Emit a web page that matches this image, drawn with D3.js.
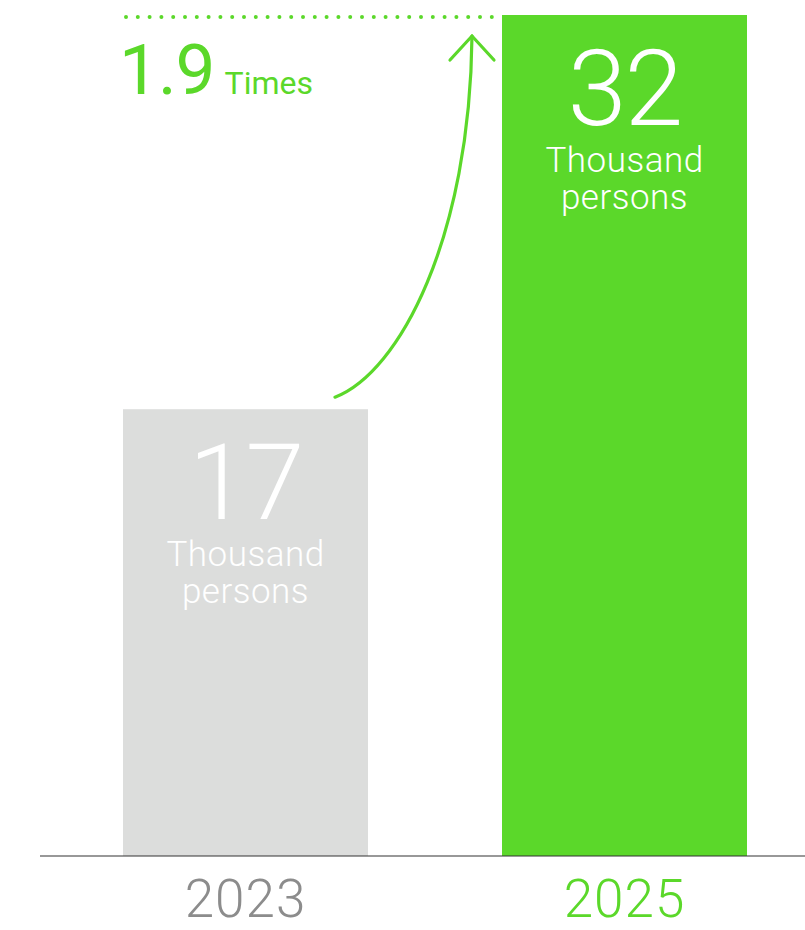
<!DOCTYPE html>
<html>
<head>
<meta charset="utf-8">
<script src="https://cdn.jsdelivr.net/npm/d3@7"></script>
<style>
  html, body { margin: 0; padding: 0; background: #fff; }
  svg { display: block; }
  text { font-family: Roboto, "Noto Sans", sans-serif; }
</style>
</head>
<body>
<svg id="chart" width="805" height="930"></svg>
<script>
// Employees by year, in thousands of persons
const years = ["2023", "2025"];
const values = [17, 32];
const unitLines = ["Thousand", "persons"];
const growthLabel = "1.9";
const growthUnit = "Times";

const green = "#5bd82a";
const barFill = ["#dcdddc", green];
const yearFill = ["#8c8c8c", green];

const svg = d3.select("#chart");
const baseY = 856;

const x = d3.scaleBand()
  .domain(years)
  .range([123, 747])
  .paddingInner(0.3536)
  .paddingOuter(0);

const y = d3.scaleLinear()
  .domain([0, 32])
  .range([baseY, 15]);

// bars
svg.selectAll("rect.bar")
  .data(years)
  .join("rect")
  .attr("class", "bar")
  .attr("x", d => x(d))
  .attr("width", x.bandwidth())
  .attr("y", (d, i) => y(values[i]))
  .attr("height", (d, i) => baseY - y(values[i]))
  .attr("fill", (d, i) => barFill[i]);

// baseline + year labels
const axis = d3.axisBottom(x).tickSize(0).tickPadding(0);
const gx = svg.append("g")
  .attr("transform", `translate(0,${baseY})`)
  .call(axis);
gx.select(".domain").attr("d", "M40,0H805").attr("stroke", "#333").attr("stroke-width", 1.2);
gx.selectAll(".tick text")
  .attr("font-size", 53)
  .attr("font-weight", 300)
  .attr("font-family", "Roboto, sans-serif")
  .attr("letter-spacing", 1)
  .attr("dy", null)
  .attr("y", 61)
  .attr("fill", (d, i) => yearFill[i]);

// value labels inside bars
const lab = svg.selectAll("g.vlab")
  .data(years)
  .join("g")
  .attr("class", "vlab")
  .attr("transform", (d, i) => `translate(${x(d) + x.bandwidth() / 2},${y(values[i])})`);

lab.append("text")
  .attr("text-anchor", "middle")
  .attr("y", 110)
  .attr("font-size", 106)
  .attr("font-weight", 300)
  .attr("fill", "#fff")
  .attr("letter-spacing", -2)
  .text((d, i) => values[i]);

unitLines.forEach((t, k) => {
  lab.append("text")
    .attr("text-anchor", "middle")
    .attr("y", 157 + k * 37)
    .attr("font-size", 35)
    .attr("font-weight", 300)
    .attr("letter-spacing", 0.5)
    .attr("fill", "#fff")
    .text(t);
});

// dotted guide at the level of the taller bar
const topY = y(values[1]) + 2;
svg.append("line")
  .attr("x1", 126).attr("x2", 500)
  .attr("y1", topY).attr("y2", topY)
  .attr("stroke", green)
  .attr("stroke-width", 4)
  .attr("stroke-linecap", "round")
  .attr("stroke-dasharray", "0 11.8");

// growth label
const gl = svg.append("text").attr("x", 119).attr("y", 94).attr("fill", green);
gl.append("tspan").attr("font-size", 71).attr("letter-spacing", -1).text(growthLabel);
gl.append("tspan").attr("font-size", 32).attr("dx", 10).text(growthUnit);

// growth arrow rising from the shorter bar
const x0 = x(years[0]) + x.bandwidth() - 33;
const y0 = y(values[0]) - 12;
const x1 = 472, y1 = 36;
svg.append("path")
  .attr("d", `M${x0},${y0} C${x0 + 65},${y0 - 25} ${x1 - 2},${y0 - 160} ${x1},${y1}`)
  .attr("fill", "none")
  .attr("stroke", green)
  .attr("stroke-width", 3.2)
  .attr("stroke-linecap", "round");
svg.append("path")
  .attr("d", `M${x1 - 22},${y1 + 24} L${x1},${y1} L${x1 + 22},${y1 + 24}`)
  .attr("fill", "none")
  .attr("stroke", green)
  .attr("stroke-width", 3.2)
  .attr("stroke-linecap", "round")
  .attr("stroke-linejoin", "miter");
</script>
</body>
</html>
